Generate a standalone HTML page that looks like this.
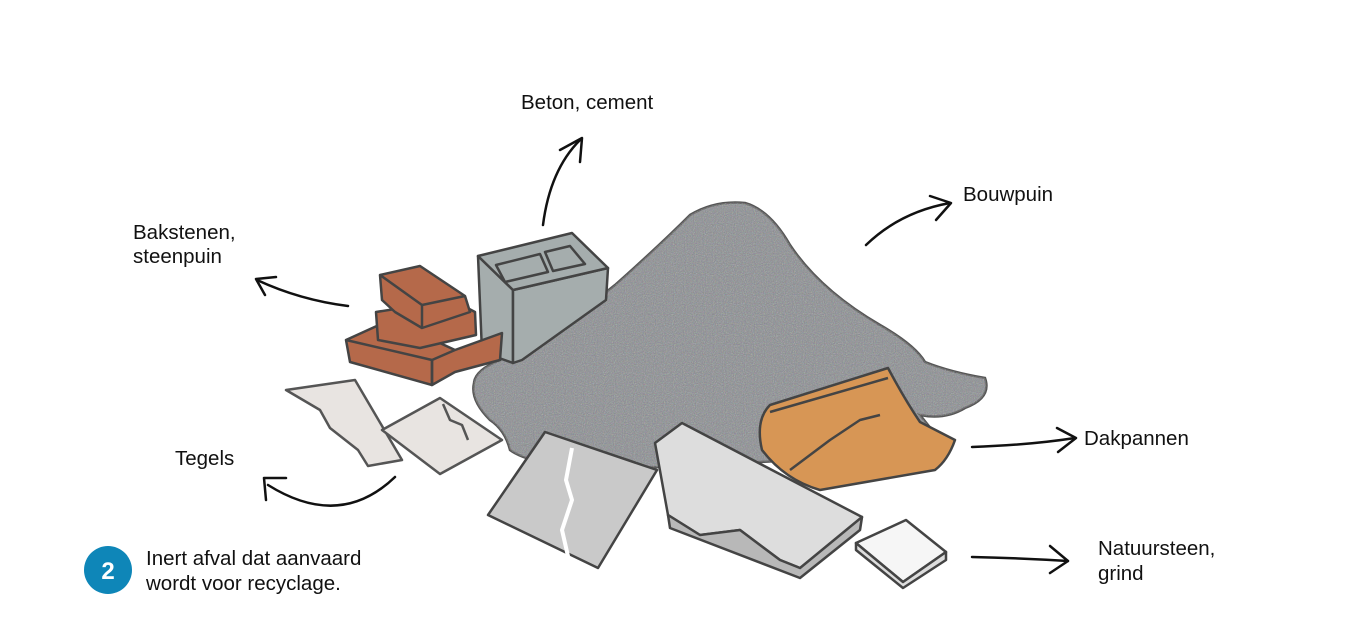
<!DOCTYPE html>
<html><head><meta charset="utf-8"><style>
html,body{margin:0;padding:0;background:#fff;width:1366px;height:644px;overflow:hidden}
svg{display:block}
text{font-family:"Liberation Sans",sans-serif;font-size:20.5px;fill:#111}
</style></head><body>
<svg width="1366" height="644" viewBox="0 0 1366 644" xmlns="http://www.w3.org/2000/svg">
<defs>
<filter id="noise" x="0" y="0" width="100%" height="100%">
<feTurbulence type="fractalNoise" baseFrequency="0.9" numOctaves="2" seed="3"/>
<feColorMatrix type="saturate" values="0.8"/>
<feComponentTransfer><feFuncA type="linear" slope="0.6"/></feComponentTransfer>
<feComposite in2="SourceGraphic" operator="in"/>
</filter>
</defs>
<g fill="none" stroke="#111" stroke-width="2.5" stroke-linecap="round" stroke-linejoin="round">
<path d="M543 225 Q550 170 580 140"/><path d="M560 150 L582 138 L580 162"/>
<path d="M866 245 Q900 212 950 203"/><path d="M930 196 L951 203 L936 220"/>
<path d="M348 306 Q300 300 257 280"/><path d="M265 295 L256 279 L276 277"/>
<path d="M395 477 Q340 530 268 485"/><path d="M266 500 L264 478 L286 478"/>
<path d="M972 447 Q1030 445 1075 438"/><path d="M1057 428 L1076 438 L1058 452"/>
<path d="M972 557 Q1020 558 1068 561"/><path d="M1050 546 L1068 561 L1050 573"/>
</g>
<path d="M474 383 Q475 370 500 360 Q560 330 615 285 Q660 245 690 215 Q715 200 745 203 Q770 210 790 245 Q820 290 880 325 Q915 345 925 362 Q950 372 985 378 Q992 398 965 408 Q945 420 920 415 L940 440 Q880 470 800 460 L600 470 Q530 465 510 450 Q505 430 490 420 Q470 400 474 383Z" fill="#86898d" stroke="#555" stroke-width="2.5"/>
<path d="M474 383 Q475 370 500 360 Q560 330 615 285 Q660 245 690 215 Q715 200 745 203 Q770 210 790 245 Q820 290 880 325 Q915 345 925 362 Q950 372 985 378 Q992 398 965 408 Q945 420 920 415 L940 440 Q880 470 800 460 L600 470 Q530 465 510 450 Q505 430 490 420 Q470 400 474 383Z" fill="#888" filter="url(#noise)"/>
<g stroke="#444" stroke-width="2.5" stroke-linejoin="round" fill="#a5adad">
<polygon points="478,256 513,290 513,363 482,352"/>
<polygon points="513,290 608,268 606,300 522,360 513,363"/>
<polygon points="478,256 572,233 608,268 513,290"/>
<polygon points="496,265 540,254 548,272 505,282"/>
<polygon points="545,252 570,246 585,264 553,271"/>
</g>
<g stroke="#444" stroke-width="2.5" stroke-linejoin="round" fill="#b5694a">
<polygon points="346,340 390,320 455,350 452,372 432,385 350,362"/>
<polygon points="432,360 455,350 502,333 500,360 455,372 432,385"/>
<polygon points="376,312 452,300 475,312 476,335 420,348 378,340"/>
<polygon points="380,275 420,266 465,296 470,312 422,328 395,312 382,300"/>
<line x1="380" y1="275" x2="422" y2="305"/><line x1="422" y1="305" x2="465" y2="296"/><line x1="422" y1="305" x2="422" y2="328"/>
<line x1="346" y1="340" x2="432" y2="360"/><line x1="432" y1="360" x2="432" y2="385"/>
</g>
<g stroke="#555" stroke-width="2.5" stroke-linejoin="round">
<polygon points="286,390 355,380 402,460 368,466 358,450 330,428 320,410" fill="#e8e4e1"/>
<polygon points="382,430 440,398 502,440 440,474" fill="#e8e4e1"/>
<path d="M443 404 L450 420 L462 425 L468 440" fill="none"/>
</g>
<g stroke="#444" stroke-width="2.5" stroke-linejoin="round">
<polygon points="488,515 545,432 657,470 598,568" fill="#c9c9c9"/>
<path d="M572 448 L566 480 L572 500 L562 530 L570 565" fill="none" stroke="#fff" stroke-width="4"/>
</g>
<g stroke="#444" stroke-width="2.5" stroke-linejoin="round">
<path d="M770 405 L888 368 Q905 400 920 422 L955 440 Q948 460 935 470 L820 490 Q785 480 762 450 Q755 420 770 405Z" fill="#d79655"/>
<path d="M790 470 L810 455 L830 440 L860 420 L880 415" fill="none"/>
<path d="M770 412 L888 378" fill="none"/>
</g>
<g stroke="#444" stroke-width="2.5" stroke-linejoin="round">
<polygon points="655,443 682,423 862,517 855,530 800,568 780,560 740,530 700,535 668,515" fill="#ddd"/>
<polygon points="668,515 700,535 740,530 780,560 800,568 862,517 860,530 800,578 670,528" fill="#b8b8b8"/>
</g>
<g stroke="#444" stroke-width="2.5" stroke-linejoin="round">
<polygon points="856,543 906,520 946,552 903,582" fill="#f6f6f6"/>
<polygon points="856,543 903,582 946,552 946,560 903,588 856,550" fill="#ddd"/>
</g>
<text x="521" y="109">Beton, cement</text>
<text x="963" y="201">Bouwpuin</text>
<text x="133" y="239">Bakstenen,</text>
<text x="133" y="263">steenpuin</text>
<text x="175" y="465">Tegels</text>
<text x="1084" y="445">Dakpannen</text>
<text x="1098" y="555">Natuursteen,</text>
<text x="1098" y="580">grind</text>
<circle cx="108" cy="570" r="24" fill="#0e86b8"/>
<text x="108" y="579" text-anchor="middle" style="font-size:24px;font-weight:bold;fill:#fff">2</text>
<text x="146" y="565">Inert afval dat aanvaard</text>
<text x="146" y="590">wordt voor recyclage.</text>
</svg>
</body></html>
